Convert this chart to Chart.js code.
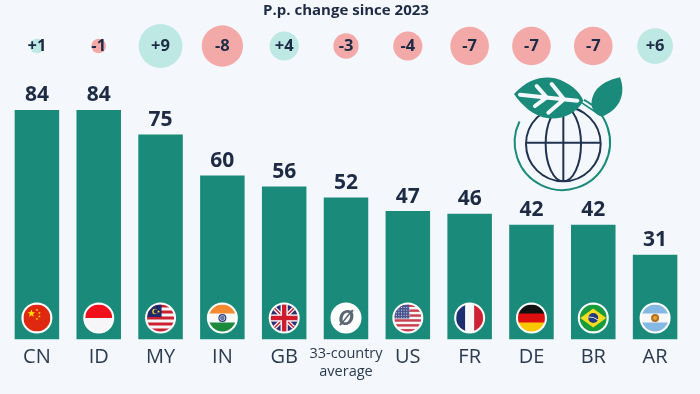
<!DOCTYPE html>
<html>
<head>
<meta charset="utf-8">
<title>P.p. change since 2023</title>
<script src="https://cdn.jsdelivr.net/npm/chart.js@4"></script>
<style>
  html, body { margin: 0; padding: 0; background: #f4f7fb; }
  canvas { display: block; }
</style>
</head>
<body>
<canvas id="chart" width="700" height="394"></canvas>
<script>
const categories = ['CN', 'ID', 'MY', 'IN', 'GB', ['33-country', 'average'], 'US', 'FR', 'DE', 'BR', 'AR'];
const flagCodes = ['CN', 'ID', 'MY', 'IN', 'GB', 'AVG', 'US', 'FR', 'DE', 'BR', 'AR'];
const shareValues = [84, 84, 75, 60, 56, 52, 47, 46, 42, 42, 31];
const changeValues = [1, -1, 9, -8, 4, -3, -4, -7, -7, -7, 6];

const DARK = '#1d2b45';
const TEAL = '#1a8a7a';
const changeRow = 107.4; // height of the bubble row on the y axis

function star(ctx, x, y, r, color) {
  ctx.fillStyle = color;
  ctx.beginPath();
  for (let i = 0; i < 10; i++) {
    const a = -Math.PI / 2 + i * Math.PI / 5;
    const d = i % 2 ? r * 0.42 : r;
    ctx.lineTo(x + Math.cos(a) * d, y + Math.sin(a) * d);
  }
  ctx.closePath();
  ctx.fill();
}

function bands(ctx, colors, r) {
  const h = 2 * r / colors.length;
  colors.forEach((c, i) => {
    ctx.fillStyle = c;
    ctx.fillRect(-r, -r + i * h, 2 * r, h + 0.5);
  });
}

function columns(ctx, colors, r) {
  const w = 2 * r / colors.length;
  colors.forEach((c, i) => {
    ctx.fillStyle = c;
    ctx.fillRect(-r + i * w, -r, w + 0.5, 2 * r);
  });
}

function stripes(ctx, r, count, a, b) {
  const h = 2 * r / count;
  for (let i = 0; i < count; i++) {
    ctx.fillStyle = i % 2 ? b : a;
    ctx.fillRect(-r, -r + i * h, 2 * r, h + 0.5);
  }
}

const flags = {
  CN(ctx, r) {
    ctx.fillStyle = '#de2910';
    ctx.fillRect(-r, -r, 2 * r, 2 * r);
    star(ctx, -5.5, -4.5, 4, '#ffde00');
    star(ctx, 0, -8, 1.4, '#ffde00');
    star(ctx, 2.5, -5, 1.4, '#ffde00');
    star(ctx, 2.5, -1.5, 1.4, '#ffde00');
    star(ctx, 0, 1, 1.4, '#ffde00');
  },
  ID(ctx, r) { bands(ctx, ['#f0101c', '#f6f6f8'], r); },
  MY(ctx, r) {
    stripes(ctx, r, 9, '#cc1f30', '#f6f6f8');
    ctx.fillStyle = '#1f2a6b';
    ctx.fillRect(-r, -r, r + 1, r - 1);
    ctx.fillStyle = '#f8d030';
    ctx.beginPath();
    ctx.arc(-5.5, -6.5, 2.8, 0, Math.PI * 2);
    ctx.fill();
    ctx.fillStyle = '#1f2a6b';
    ctx.beginPath();
    ctx.arc(-4.6, -6.5, 2.3, 0, Math.PI * 2);
    ctx.fill();
    star(ctx, -2, -6.5, 1.6, '#f8d030');
  },
  IN(ctx, r) {
    bands(ctx, ['#f58a33', '#fafafa', '#1c8a3c'], r);
    ctx.strokeStyle = '#2a3a80';
    ctx.lineWidth = 1.2;
    ctx.beginPath();
    ctx.arc(0, 0, 3.4, 0, Math.PI * 2);
    ctx.stroke();
    ctx.fillStyle = '#6a78a8';
    ctx.beginPath();
    ctx.arc(0, 0, 2.4, 0, Math.PI * 2);
    ctx.fill();
  },
  GB(ctx, r) {
    ctx.fillStyle = '#2b2f6f';
    ctx.fillRect(-r, -r, 2 * r, 2 * r);
    ctx.strokeStyle = '#f6f6f8';
    ctx.lineWidth = 4;
    ctx.beginPath();
    ctx.moveTo(-r, -r); ctx.lineTo(r, r);
    ctx.moveTo(r, -r); ctx.lineTo(-r, r);
    ctx.stroke();
    ctx.strokeStyle = '#cf1b2b';
    ctx.lineWidth = 1.4;
    ctx.stroke();
    ctx.fillStyle = '#f6f6f8';
    ctx.fillRect(-r, -3.6, 2 * r, 7.2);
    ctx.fillRect(-3.6, -r, 7.2, 2 * r);
    ctx.fillStyle = '#cf1b2b';
    ctx.fillRect(-r, -2.2, 2 * r, 4.4);
    ctx.fillRect(-2.2, -r, 4.4, 2 * r);
  },
  AVG(ctx, r) {
    ctx.fillStyle = '#ffffff';
    ctx.fillRect(-r, -r, 2 * r, 2 * r);
    ctx.fillStyle = '#5b6675';
    ctx.font = 'italic 700 22px "Open Sans"';
    ctx.textAlign = 'center';
    ctx.textBaseline = 'middle';
    ctx.fillText('Ø', 0, 0.5);
  },
  US(ctx, r) {
    stripes(ctx, r, 11, '#c9404f', '#f6f6f8');
    ctx.fillStyle = '#4a5590';
    ctx.fillRect(-r, -r, r + 1.5, r + 0.5);
    ctx.fillStyle = '#d8dcec';
    for (let y = -11; y < 0; y += 2.6) {
      for (let x = -12; x < 1; x += 2.6) ctx.fillRect(x, y, 1, 1);
    }
  },
  FR(ctx, r) { columns(ctx, ['#1d2f6f', '#f8f8f8', '#ce2234'], r); },
  DE(ctx, r) { bands(ctx, ['#111111', '#dd0f10', '#fbc800'], r); },
  BR(ctx, r) {
    ctx.fillStyle = '#179c3c';
    ctx.fillRect(-r, -r, 2 * r, 2 * r);
    ctx.fillStyle = '#f9dc1e';
    ctx.beginPath();
    ctx.moveTo(-r + 0.5, 0); ctx.lineTo(0, -9.5); ctx.lineTo(r - 0.5, 0); ctx.lineTo(0, 9.5);
    ctx.closePath();
    ctx.fill();
    ctx.fillStyle = '#233a80';
    ctx.beginPath();
    ctx.arc(0, 0, 5, 0, Math.PI * 2);
    ctx.fill();
    ctx.strokeStyle = '#f4f4f4';
    ctx.lineWidth = 0.9;
    ctx.beginPath();
    ctx.moveTo(-5, -1); ctx.quadraticCurveTo(0, -1.5, 5, 2);
    ctx.stroke();
  },
  AR(ctx, r) {
    bands(ctx, ['#86b8e4', '#f8f8f8', '#86b8e4'], r);
    ctx.fillStyle = '#b5711d';
    ctx.beginPath();
    ctx.arc(0, 0, 4, 0, Math.PI * 2);
    ctx.fill();
    ctx.fillStyle = '#e8a33a';
    ctx.beginPath();
    ctx.arc(0, 0, 2, 0, Math.PI * 2);
    ctx.fill();
  }
};

// small round flags at the foot of each bar
const flagPlugin = {
  id: 'flagPlugin',
  afterDatasetsDraw(chart) {
    const ctx = chart.ctx;
    const base = chart.scales.y.getPixelForValue(0);
    chart.getDatasetMeta(0).data.forEach((bar, i) => {
      ctx.save();
      ctx.translate(bar.x, base - 21.5);
      ctx.fillStyle = '#ffffff';
      ctx.beginPath();
      ctx.arc(0, 0, 15.5, 0, Math.PI * 2);
      ctx.fill();
      ctx.beginPath();
      ctx.arc(0, 0, 13.5, 0, Math.PI * 2);
      ctx.clip();
      flags[flagCodes[i]](ctx, 13.5);
      ctx.restore();
    });
  }
};

// value over each bar and change inside each bubble
const labelPlugin = {
  id: 'labelPlugin',
  afterDatasetsDraw(chart) {
    const ctx = chart.ctx;
    ctx.save();
    ctx.fillStyle = DARK;
    ctx.textAlign = 'center';
    ctx.textBaseline = 'middle';
    ctx.font = '700 21px "Open Sans"';
    chart.getDatasetMeta(0).data.forEach((bar, i) => {
      ctx.fillText(shareValues[i], bar.x, bar.y - 14.5);
    });
    ctx.font = '700 16.5px "Open Sans"';
    chart.getDatasetMeta(1).data.forEach((pt, i) => {
      const v = changeValues[i];
      ctx.fillText((v > 0 ? '+' : '') + v, pt.x, pt.y);
    });
    ctx.restore();
  }
};

// globe and leaves pictogram, top right
const iconPlugin = {
  id: 'iconPlugin',
  afterDraw(chart) {
    const ctx = chart.ctx;
    ctx.save();
    ctx.translate(500, 70);
    ctx.scale(1 / 3, 1 / 3);

    ctx.strokeStyle = TEAL;
    ctx.lineWidth = 6;
    ctx.beginPath();
    ctx.arc(187, 217, 143, -63 * Math.PI / 180, 206 * Math.PI / 180);
    ctx.stroke();

    ctx.strokeStyle = '#1f3350';
    ctx.lineWidth = 6;
    ctx.beginPath();
    ctx.arc(190, 222, 112, 0, Math.PI * 2);
    ctx.moveTo(243, 222);
    ctx.ellipse(190, 222, 53, 112, 0, 0, Math.PI * 2);
    ctx.moveTo(190, 110); ctx.lineTo(190, 334);
    ctx.moveTo(78, 218); ctx.lineTo(302, 218);
    ctx.stroke();

    ctx.strokeStyle = TEAL;
    ctx.lineWidth = 5;
    ctx.beginPath();
    ctx.moveTo(240, 95); ctx.lineTo(300, 135);
    ctx.stroke();

    // big leaf
    ctx.fillStyle = TEAL;
    ctx.beginPath();
    ctx.moveTo(42, 72);
    ctx.bezierCurveTo(85, 25, 130, 18, 165, 25);
    ctx.bezierCurveTo(205, 35, 240, 65, 250, 92);
    ctx.bezierCurveTo(230, 130, 190, 148, 145, 145);
    ctx.bezierCurveTo(100, 140, 65, 105, 42, 72);
    ctx.fill();

    // leaf veins
    ctx.strokeStyle = '#f4f7fb';
    ctx.lineWidth = 12;
    ctx.lineCap = 'round';
    ctx.beginPath();
    ctx.moveTo(60, 74); ctx.lineTo(232, 92);
    ctx.moveTo(110, 48); ctx.lineTo(140, 82);
    ctx.moveTo(105, 108); ctx.lineTo(140, 82);
    ctx.moveTo(155, 42); ctx.lineTo(192, 88);
    ctx.moveTo(145, 128); ctx.lineTo(192, 88);
    ctx.stroke();

    // small leaf
    ctx.fillStyle = TEAL;
    ctx.beginPath();
    ctx.moveTo(360, 22);
    ctx.bezierCurveTo(375, 60, 370, 115, 305, 140);
    ctx.bezierCurveTo(270, 125, 268, 95, 285, 65);
    ctx.bezierCurveTo(300, 42, 330, 28, 360, 22);
    ctx.fill();
    ctx.restore();
  }
};

new Chart(document.getElementById('chart'), {
  type: 'bar',
  data: {
    labels: categories,
    datasets: [
      {
        data: shareValues,
        backgroundColor: TEAL,
        barPercentage: 0.72,
        categoryPercentage: 1,
        order: 2
      },
      {
        type: 'bubble',
        data: changeValues.map((v, i) => ({ x: i, y: changeRow })),
        parsing: false,
        radius: ctx => 7.3 * Math.sqrt(Math.abs(changeValues[ctx.dataIndex])),
        backgroundColor: ctx => changeValues[ctx.dataIndex] > 0 ? '#bde8e4' : '#f4a9a9',
        borderWidth: 0,
        order: 1
      }
    ]
  },
  options: {
    responsive: false,
    animation: false,
    layout: { autoPadding: false, padding: { left: 6, right: 14, top: 0, bottom: 0.5 } },
    plugins: {
      legend: { display: false },
      tooltip: { enabled: false },
      title: {
        display: true,
        text: 'P.p. change since 2023',
        color: DARK,
        font: { family: '"Open Sans"', size: 15, weight: '700' },
        padding: { top: 1.5, bottom: 0 }
      }
    },
    scales: {
      x: {
        grid: { display: false, drawTicks: false },
        border: { display: false },
        afterFit: scale => {
          scale.height = 54;
          scale.paddingLeft = scale.paddingRight = scale.paddingTop = scale.paddingBottom = 0;
        },
        ticks: {
          autoSkip: false,
          maxRotation: 0,
          padding: 6,
          color: '#2a3a50',
          font: ctx => ctx.index === 5
            ? { family: '"Open Sans"', size: 14.5, lineHeight: 1.2 }
            : { family: '"Open Sans"', size: 20 }
        }
      },
      y: {
        display: false,
        min: 0,
        max: 117.1
      }
    }
  },
  plugins: [flagPlugin, labelPlugin, iconPlugin]
});
</script>
</body>
</html>
